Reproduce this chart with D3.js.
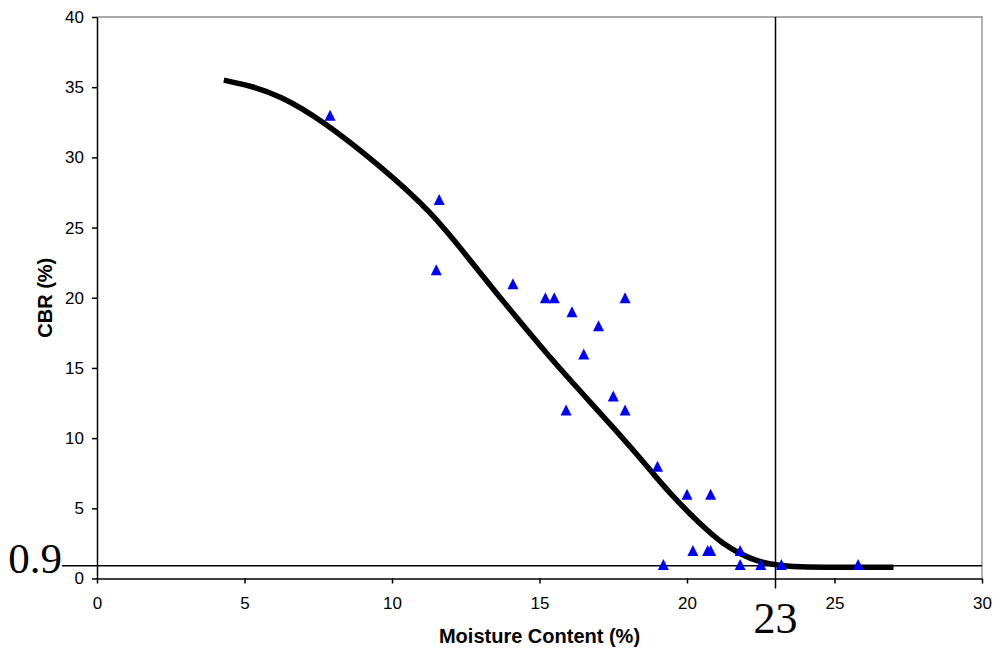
<!DOCTYPE html>
<html>
<head>
<meta charset="utf-8">
<script src="https://cdn.jsdelivr.net/npm/d3@7"></script>
<style>
	body { margin: 0; background: #fff; }
	svg { display: block; }
</style>
</head>
<body>
<div id="chart"></div>
<script>
// measured points (moisture %, CBR %)
var moisture = [7.9, 11.6, 11.5, 14.1, 15.2, 15.5, 16.1, 17.9, 17.0, 16.5, 17.5, 15.9, 17.9,
	19.0, 20.0, 20.8, 19.2, 20.2, 20.7, 20.8, 21.8, 21.8, 22.5, 23.2, 25.8]
var cbr = [33, 27, 22, 21, 20, 20, 19, 20, 18, 16, 13, 12, 12,
	8, 6, 6, 1, 2, 2, 2, 2, 1, 1, 1, 1]

// fitted curve
var curveX = [4.3, 5.2, 6.2, 7.6, 9.6, 11.3, 12.6, 13.4, 14.1, 15.25, 16.4, 17.7, 18.4, 19.0,
	19.5, 20.1, 20.7, 21.2, 21.8, 22.4, 23.2, 24.0, 25.5, 27.0]
var curveY = [35.5, 35.1, 34.4, 32.7, 29.4, 26.2, 22.8, 20.7, 18.9, 16.0, 13.3, 10.3, 8.6, 7.1,
	5.9, 4.6, 3.4, 2.5, 1.75, 1.2, 0.88, 0.8, 0.8, 0.8]

var xTicks = [0, 5, 10, 15, 20, 25, 30]
var yTicks = [0, 5, 10, 15, 20, 25, 30, 35, 40]

// reference lines
var refCbr = 0.9, refMoisture = 23
var refCbrLabel = "0.9", refMoistureLabel = "23"

var w = 993, h = 649,
	margins = {left: 97, right: 982, top: 17, bottom: 578.5},
	sans = "Liberation Sans, Arial, sans-serif",
	serif = "Liberation Serif, Times New Roman, serif",
	svg = d3.select("#chart").append("svg")
		.attr("width", w)
		.attr("height", h)

var x = d3.scaleLinear().domain([0, 30]).range([margins.left, margins.right])
var y = d3.scaleLinear().domain([0, 40]).range([margins.bottom, margins.top])

// top and right frame (grey)
svg.append("path")
	.attr("d", "M" + margins.left + "," + margins.top + "H" + margins.right + "V" + margins.bottom)
	.attr("fill", "none")
	.attr("stroke", "#8c8c8c")
	.attr("stroke-width", 1.3)

// reference lines
svg.append("line")
	.attr("x1", 62).attr("x2", x(30))
	.attr("y1", y(refCbr)).attr("y2", y(refCbr))
	.attr("stroke", "#000").attr("stroke-width", 1.5)

svg.append("line")
	.attr("x1", x(refMoisture)).attr("x2", x(refMoisture))
	.attr("y1", y(40)).attr("y2", margins.bottom + 10)
	.attr("stroke", "#000").attr("stroke-width", 1.5)

// axes
var xAxis = d3.axisBottom(x).tickValues(xTicks).tickSize(5).tickSizeOuter(0).tickPadding(13)
var yAxis = d3.axisLeft(y).tickValues(yTicks).tickSize(5).tickSizeOuter(0).tickPadding(8)

svg.append("g")
	.attr("transform", "translate(0," + margins.bottom + ")")
	.call(xAxis)
svg.append("g")
	.attr("transform", "translate(" + margins.left + ",0)")
	.call(yAxis)

svg.selectAll(".domain, .tick line").attr("stroke", "#000").attr("stroke-width", 1.5)
svg.selectAll(".tick text")
	.attr("fill", "#000")
	.style("font-family", sans)
	.style("font-size", "17px")

// fitted curve
var line = d3.line()
	.x((d, i) => x(curveX[i]))
	.y((d, i) => y(curveY[i]))
	.curve(d3.curveBasis)

svg.append("path")
	.datum(curveX)
	.attr("d", line)
	.attr("fill", "none")
	.attr("stroke", "#000")
	.attr("stroke-width", 5.5)

// data markers
var tri = "M0,-5.5L5.5,5.5L-5.5,5.5Z"
svg.selectAll(".pt")
	.data(moisture)
	.enter()
	.append("path")
	.attr("class", "pt")
	.attr("d", tri)
	.attr("transform", (d, i) => "translate(" + x(d) + "," + y(cbr[i]) + ")")
	.attr("fill", "#0000ff")

// axis titles
svg.append("text")
	.attr("transform", "rotate(-90)")
	.attr("x", -(margins.top + margins.bottom) / 2)
	.attr("y", 52)
	.style("text-anchor", "middle")
	.style("font-family", sans)
	.style("font-weight", "bold")
	.style("font-size", "20px")
	.text("CBR (%)")

svg.append("text")
	.attr("x", (margins.left + margins.right) / 2)
	.attr("y", 643)
	.style("text-anchor", "middle")
	.style("font-family", sans)
	.style("font-weight", "bold")
	.style("font-size", "20px")
	.text("Moisture Content (%)")

// reference labels
svg.append("text")
	.attr("x", 62)
	.attr("y", 573)
	.style("text-anchor", "end")
	.style("font-family", serif)
	.style("font-size", "43px")
	.text(refCbrLabel)

svg.append("text")
	.attr("x", x(refMoisture))
	.attr("y", 633)
	.style("text-anchor", "middle")
	.style("font-family", serif)
	.style("font-size", "44px")
	.text(refMoistureLabel)
</script>
</body>
</html>
